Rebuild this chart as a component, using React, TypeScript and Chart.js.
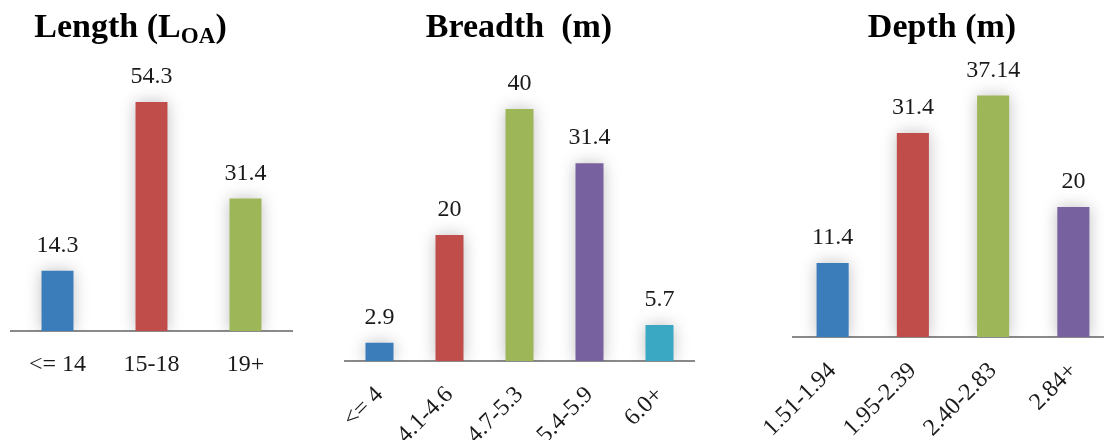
import React, { useEffect, useRef } from "react";
import { Chart, registerables } from "chart.js";

Chart.register(...registerables);

const lengthLabels = ["<= 14", "15-18", "19+"];
const lengthValues = [14.3, 54.3, 31.4];
const breadthLabels = ["<= 4", "4.1-4.6", "4.7-5.3", "5.4-5.9", "6.0+"];
const breadthValues = [2.9, 20, 40, 31.4, 5.7];
const depthLabels = ["1.51-1.94", "1.95-2.39", "2.40-2.83", "2.84+"];
const depthValues = [11.4, 31.4, 37.14, 20];

const BLUE = "#3A7DBA";
const RED = "#C04D4A";
const GREEN = "#9DB657";
const PURPLE = "#77619E";
const CYAN = "#3AA8C2";

const SERIF = "'Times New Roman', 'Liberation Serif', serif";

const barExtras = {
  id: "barExtras",
  beforeDatasetsDraw(chart: any) {
    const ctx = chart.ctx;
    ctx.save();
    ctx.shadowColor = "rgba(0,0,0,0.25)";
    ctx.shadowBlur = 16;
  },
  afterDatasetsDraw(chart: any) {
    const ctx = chart.ctx;
    ctx.restore();
    ctx.save();
    ctx.font = `24px ${SERIF}`;
    ctx.fillStyle = "#1a1a1a";
    ctx.textAlign = "center";
    ctx.textBaseline = "middle";
    const meta = chart.getDatasetMeta(0);
    const data = chart.data.datasets[0].data;
    meta.data.forEach((el: any, i: number) => {
      ctx.fillText(String(data[i]), el.x, el.y - 25);
    });
    ctx.restore();
  },
};

type PanelProps = {
  left: number;
  width: number;
  labels: string[];
  values: number[];
  colors: string[];
  yMax: number;
  axisY: number;
  padLeft: number;
  padRight: number;
  padTop: number;
  rotation: number;
  barPct: number;
  tickPad: number;
};

function Panel(p: PanelProps) {
  const ref = useRef<HTMLCanvasElement | null>(null);
  useEffect(() => {
    if (!ref.current) return;
    const H = 440;
    const chart = new Chart(ref.current, {
      type: "bar",
      data: {
        labels: p.labels,
        datasets: [
          {
            data: p.values,
            backgroundColor: p.colors,
            borderWidth: 0,
            barPercentage: p.barPct,
            categoryPercentage: 1,
          },
        ],
      },
      options: {
        responsive: false,
        animation: false,
        events: [],
        layout: {
          autoPadding: false,
          padding: { left: p.padLeft, right: p.padRight, top: p.padTop, bottom: 0 },
        },
        plugins: {
          legend: { display: false },
          title: { display: false },
          tooltip: { enabled: false },
        },
        scales: {
          x: {
            grid: { display: false, drawTicks: false },
            border: { display: true, color: "#8a8a8a", width: 2 },
            ticks: {
              color: "#1a1a1a",
              font: { family: SERIF, size: 24 },
              minRotation: p.rotation,
              maxRotation: p.rotation,
              padding: p.tickPad,
              autoSkip: false,
            },
            afterFit: (scale: any) => {
              scale.height = H - p.axisY;
              scale.paddingLeft = 0;
              scale.paddingRight = 0;
            },
          },
          y: {
            display: false,
            min: 0,
            max: p.yMax,
          },
        },
      },
      plugins: [barExtras],
    });
    return () => chart.destroy();
  }, []);
  return (
    <canvas
      ref={ref}
      width={p.width}
      height={440}
      style={{ position: "absolute", left: p.left, top: 0, width: p.width, height: 440 }}
    />
  );
}

const titleStyle: React.CSSProperties = {
  position: "absolute",
  top: 9,
  width: 300,
  textAlign: "center",
  fontFamily: SERIF,
  fontWeight: "bold",
  fontSize: 34,
  lineHeight: "34px",
  color: "#000",
  whiteSpace: "nowrap",
};

export default function App() {
  return (
    <div
      style={{
        position: "absolute",
        left: 0,
        top: 0,
        width: 1104,
        height: 440,
        overflow: "hidden",
        background: "#fff",
      }}
    >
      <Panel
        left={0}
        width={300}
        labels={lengthLabels}
        values={lengthValues}
        colors={[BLUE, RED, GREEN]}
        yMax={60}
        axisY={331}
        padLeft={10.5}
        padRight={7.5}
        padTop={78}
        rotation={0}
        barPct={0.34}
        tickPad={19}
      />
      <Panel
        left={300}
        width={400}
        labels={breadthLabels}
        values={breadthValues}
        colors={[BLUE, RED, GREEN, PURPLE, CYAN]}
        yMax={45}
        axisY={361}
        padLeft={44.5}
        padRight={5.5}
        padTop={77.5}
        rotation={45}
        barPct={0.4}
        tickPad={20}
      />
      <Panel
        left={700}
        width={420}
        labels={depthLabels}
        values={depthValues}
        colors={[BLUE, RED, GREEN, PURPLE]}
        yMax={45}
        axisY={337}
        padLeft={92.5}
        padRight={6.5}
        padTop={44.5}
        rotation={45}
        barPct={0.4}
        tickPad={20}
      />
      <div style={{ ...titleStyle, left: 130.5 - 150 }}>
        Length (L
        <sub style={{ fontSize: "0.68em", lineHeight: 0, verticalAlign: "-0.25em" }}>OA</sub>)
      </div>
      <div style={{ ...titleStyle, left: 519 - 150 }}>Breadth&nbsp; (m)</div>
      <div style={{ ...titleStyle, left: 942 - 150 }}>Depth (m)</div>
    </div>
  );
}
